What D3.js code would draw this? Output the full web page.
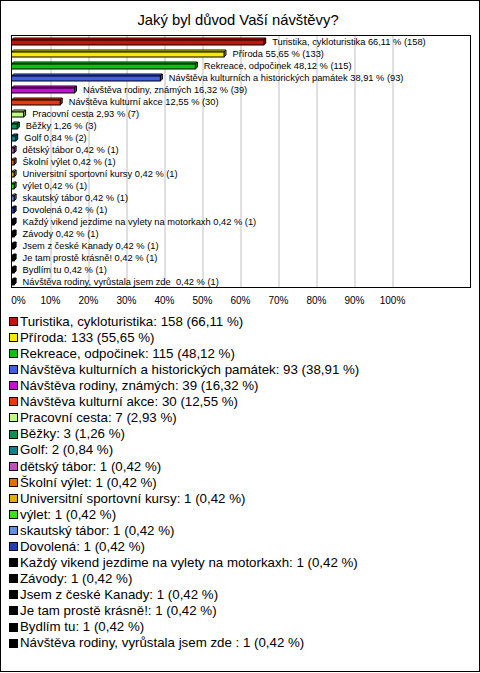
<!DOCTYPE html>
<html><head><meta charset="utf-8">
<script src="https://cdn.jsdelivr.net/npm/d3@7"></script>
<style>
body{margin:0;background:#fff;}
svg text{font-family:"Liberation Sans",Arial,sans-serif;white-space:pre;}
</style></head>
<body><svg id="c" width="480" height="673"></svg>
<script>
const title = "Jaký byl důvod Vaší návštěvy?";
const categories = ["Turistika, cykloturistika","Příroda","Rekreace, odpočinek","Návštěva kulturních a historických památek","Návštěva rodiny, známých","Návštěva kulturní akce","Pracovní cesta","Běžky","Golf","dětský tábor","Školní výlet","Universitní sportovní kursy","výlet","skautský tábor","Dovolená","Každý vikend jezdime na vylety na motorkaxh","Závody","Jsem z české Kanady","Je tam prostě krásně!","Bydlím tu","Návštěva rodiny, vyrůstala jsem zde "];
const counts = [158,133,115,93,39,30,7,3,2,1,1,1,1,1,1,1,1,1,1,1,1];
const percents = [66.11,55.65,48.12,38.91,16.32,12.55,2.93,1.26,0.84,0.42,0.42,0.42,0.42,0.42,0.42,0.42,0.42,0.42,0.42,0.42,0.42];
const colors = ["#c01808","#ffe800","#10c010","#3f60e0","#c010d0","#e03c10","#c0ff80","#109050","#108090","#c050c0","#e07000","#e0b000","#40e020","#6090e0","#2040b0","#000000","#000000","#000000","#000000","#000000","#000000"];
const ticks = [0,10,20,30,40,50,60,70,80,90,100];

const fmt = v => v.toFixed(2).replace(".", ",");
const svg = d3.select("#c");

svg.append("rect").attr("x",0.5).attr("y",0.5).attr("width",479).attr("height",671)
  .attr("fill","#fff").attr("stroke","#000");

svg.append("text").attr("x",238).attr("y",25).attr("text-anchor","middle")
  .attr("font-size","14.8px").text(title);

const plot = {left:11.5, top:35.5, right:470.5, bottom:287.5};
const x = d3.scaleLinear().domain([0,100]).range([12,392]);
const y = d3.scaleBand().domain(d3.range(categories.length)).range([35,287]);

// gridlines
svg.append("g").attr("transform",`translate(0,${plot.top})`)
  .call(d3.axisBottom(x).tickValues(ticks.slice(1)).tickSize(plot.bottom-plot.top).tickFormat(""))
  .call(g=>g.select(".domain").remove())
  .call(g=>g.selectAll("line").attr("stroke","#c0c0c0").attr("transform","translate(0.5,0)"));

svg.append("rect").attr("x",plot.left).attr("y",plot.top)
  .attr("width",plot.right-plot.left).attr("height",plot.bottom-plot.top)
  .attr("fill","none").attr("stroke","#000");

// axis labels
svg.append("g").attr("transform",`translate(0,${plot.bottom})`)
  .call(d3.axisBottom(x).tickValues(ticks).tickSize(0).tickPadding(9).tickFormat(d=>d+"%"))
  .call(g=>g.select(".domain").remove())
  .call(g=>g.selectAll("text").attr("font-size","10px").attr("font-family","Liberation Sans, Arial, sans-serif").attr("fill","#000")
      .attr("dx",d=>d===0?6:0));

// 3D bars
const dpt = 2;
const bars = svg.append("g");
categories.forEach((c,i)=>{
  const cy = y(i) + y.bandwidth()/2 + 0.5;
  const x0 = 11.5, x1 = Math.max(x(percents[i]), 13) + 0.5;
  const yt = cy - 1.5, yb = cy + 3.5;
  const col = d3.color(colors[i]);
  const g = bars.append("g").attr("stroke","#000").attr("stroke-width",1).attr("stroke-linejoin","miter");
  g.append("polygon").attr("points",[[x0,yt],[x0+dpt,yt-dpt],[x1+dpt,yt-dpt],[x1,yt]].join(" "))
    .attr("fill", col.brighter(0.6));
  g.append("polygon").attr("points",[[x1,yt],[x1+dpt,yt-dpt],[x1+dpt,yb-dpt],[x1,yb]].join(" "))
    .attr("fill", col.darker(0.6));
  g.append("rect").attr("x",x0).attr("y",yt).attr("width",x1-x0).attr("height",yb-yt).attr("fill",col);
  svg.append("text").attr("x", x(percents[i]) + 9).attr("y", cy + 3.3)
    .attr("font-size","9.3px").text(`${c} ${fmt(percents[i])} % (${counts[i]})`);
});

// legend
const lg = svg.append("g");
categories.forEach((c,i)=>{
  const cy = 321 + i*16.08;
  lg.append("rect").attr("x",9.5).attr("y",Math.round(cy-4)+0.5).attr("width",8).attr("height",8)
    .attr("fill",colors[i]).attr("stroke","#000");
  lg.append("text").attr("x",20).attr("y",cy+4.8).attr("font-size","13.3px")
    .text(`${c}: ${counts[i]} (${fmt(percents[i])} %)`);
});
</script></body></html>
